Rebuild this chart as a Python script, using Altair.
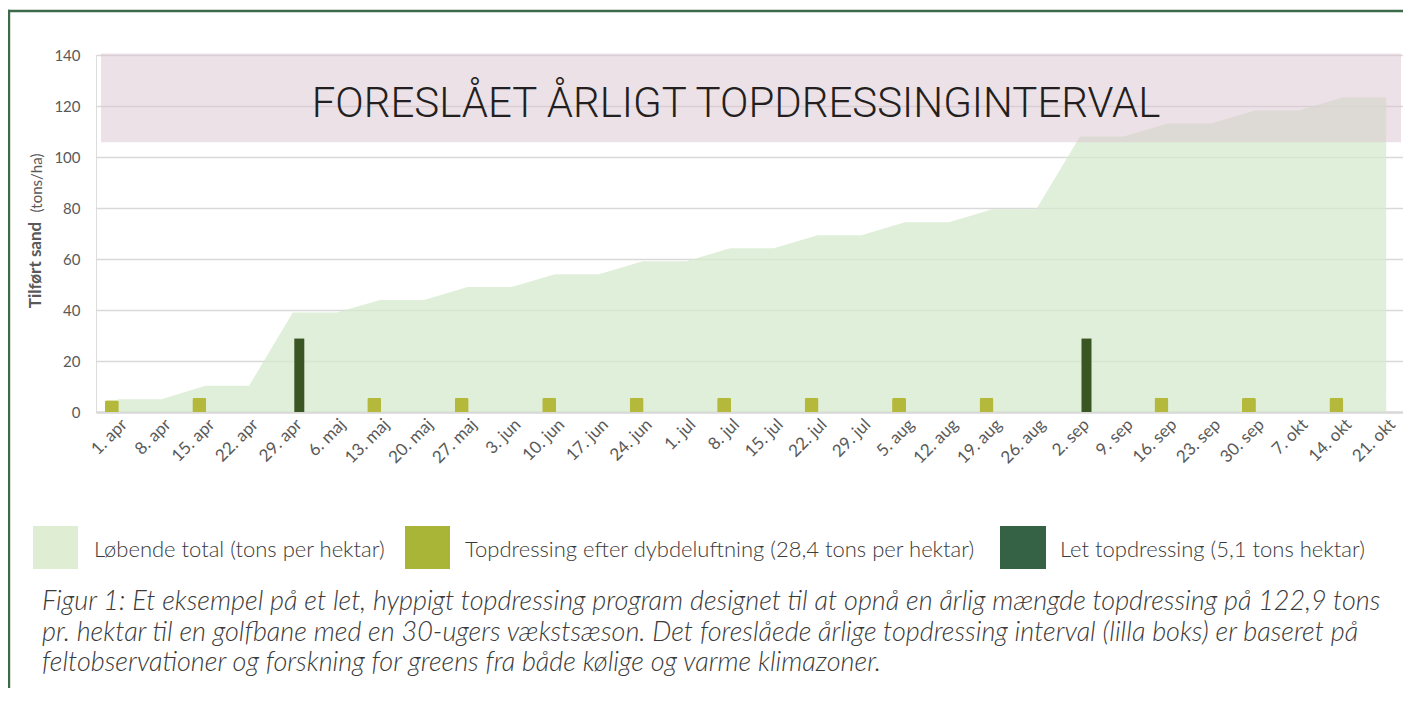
import altair as alt
import pandas as pd

weeks = ["1. apr", "8. apr", "15. apr", "22. apr", "29. apr", "6. maj", "13. maj", "20. maj",
         "27. maj", "3. jun", "10. jun", "17. jun", "24. jun", "1. jul", "8. jul", "15. jul",
         "22. jul", "29. jul", "5. aug", "12. aug", "19. aug", "26. aug", "2. sep", "9. sep",
         "16. sep", "23. sep", "30. sep", "7. okt", "14. okt", "21. okt"]

running_total = [5.0, 5.0, 10.3, 10.3, 39.0, 39.0, 43.9, 43.9, 49.0, 49.0, 54.0, 54.0,
                 59.1, 59.1, 64.2, 64.2, 69.3, 69.3, 74.4, 74.4, 79.5, 79.5, 108.0, 108.0,
                 113.1, 113.1, 118.2, 118.2, 123.3, 123.3]

light_bars = [4.6, None, 5.6, None, None, None, 5.6, None, 5.6, None, 5.6, None,
              5.6, None, 5.6, None, 5.6, None, 5.6, None, 5.6, None, None, None,
              5.6, None, 5.6, None, 5.6, None]

dark_bars = [None, None, None, None, 28.8, None, None, None, None, None, None, None,
             None, None, None, None, None, None, None, None, None, None, 28.8, None,
             None, None, None, None, None, None]

interval_low = [105.8]
interval_high = [140.6]

y_ticks = [0, 20, 40, 60, 80, 100, 120, 140]

title_text = "FORESLÅET ÅRLIGT TOPDRESSINGINTERVAL"
y_title_main = "Tilført sand"
y_title_unit = "(tons/ha)"
legend_labels = ["Løbende total (tons per hektar)",
                 "Topdressing efter dybdeluftning (28,4 tons per hektar)",
                 "Let topdressing (5,1 tons hektar)"]
caption_lines = [
    "Figur 1: Et eksempel på et let, hyppigt topdressing program designet til at opnå en årlig mængde topdressing på 122,9 tons",
    "pr. hektar til en golfbane med en 30-ugers vækstsæson. Det foreslåede årlige topdressing interval (lilla boks) er baseret på",
    "feltobservationer og forskning for greens fra både kølige og varme klimazoner.",
]

df = pd.DataFrame({"week": weeks, "total": running_total,
                   "light": light_bars, "dark": dark_bars})
box_df = pd.DataFrame({"lo": interval_low, "hi": interval_high})
one = pd.DataFrame({"k": [0]})

PLOT_W = 1307
PLOT_H = 357

x_scale = alt.Scale(domain=weeks, range=[0, 1312], paddingInner=0, paddingOuter=0)
y_scale = alt.Scale(domain=[0, 140], nice=False, zero=True)

x_axis = alt.Axis(title=None, labelAngle=-45, labelFont="Lato", labelFontSize=17,
                  labelColor="#595959", ticks=False, domainColor="#D9D9D9",
                  domainWidth=2.5, grid=False, labelPadding=4, labelOffset=1)
y_axis = alt.Axis(title=None, values=y_ticks, domain=False, ticks=False, grid=True,
                  gridColor="#D9D9D9", gridWidth=1.5, labelFont="Lato",
                  labelFontSize=15, labelColor="#595959", labelPadding=16)

x_enc = alt.X("week:N", sort=weeks, scale=x_scale, axis=x_axis)

area = alt.Chart(df).mark_area(color="#D6E9CC", opacity=0.75, line=False).encode(
    x=alt.X("week:N", sort=weeks, scale=x_scale, bandPosition=0.5, axis=x_axis),
    y=alt.Y("total:Q", scale=y_scale, axis=y_axis),
)

light = alt.Chart(df).transform_filter("datum.light != null").mark_bar(
    color="#B4B83B", width=14, xOffset=-6, cornerRadiusTopLeft=2, cornerRadiusTopRight=2
).encode(x=x_enc, y=alt.Y("light:Q", scale=y_scale))

dark = alt.Chart(df).transform_filter("datum.dark != null").mark_bar(
    color="#3A5622", width=10, xOffset=6.5
).encode(x=x_enc, y=alt.Y("dark:Q", scale=y_scale))

box = alt.Chart(box_df).mark_rect(color="#D9C3CF", opacity=0.5).encode(
    x=alt.value(5), x2=alt.value(1305),
    y=alt.Y("hi:Q", scale=y_scale), y2="lo:Q",
)

title_font = "Roboto Light, Roboto, Liberation Sans Narrow, sans-serif"
title = alt.Chart(one).mark_text(
    text=title_text, font=title_font, fontSize=42, fontWeight=300, color="#231F20",
    align="center", baseline="alphabetic"
).encode(x=alt.value(640), y=alt.value(62))

ytitle1 = alt.Chart(one).mark_text(
    text=y_title_main, font="Lato", fontSize=17, fontWeight="bold", color="#595959",
    angle=270, align="center", baseline="middle"
).encode(x=alt.value(-60), y=alt.value(210))
ytitle2 = alt.Chart(one).mark_text(
    text=y_title_unit, font="Lato", fontSize=15, color="#595959",
    angle=270, align="center", baseline="middle"
).encode(x=alt.value(-59), y=alt.value(128))

legend_colors = ["#DFEDD2", "#A8B537", "#356244"]
rect_x = [(-63, -18), (309, 354), (904, 950)]
text_x = [-2, 369, 964]
legend_layers = []
for i in range(3):
    legend_layers.append(alt.Chart(one).mark_rect(color=legend_colors[i]).encode(
        x=alt.value(rect_x[i][0]), x2=alt.value(rect_x[i][1]),
        y=alt.value(471), y2=alt.value(514)))
    legend_layers.append(alt.Chart(one).mark_text(
        text=legend_labels[i], font="Lato", fontSize=22, fontWeight=300, color="#3A3A3A",
        align="left", baseline="alphabetic").encode(x=alt.value(text_x[i]), y=alt.value(502)))

caption = alt.Chart(one).mark_text(
    text=caption_lines, font="Lato", fontSize=27, fontWeight=300, fontStyle="italic",
    color="#3A3A3A", align="left", baseline="alphabetic", lineHeight=30.5
).encode(x=alt.value(-54), y=alt.value(555))

frame_color = "#3D6B4A"
frame_top = alt.Chart(one).mark_rect(color=frame_color).encode(
    x=alt.value(-88), x2=alt.value(PLOT_W + 10), y=alt.value(-45.2), y2=alt.value(-42.8))
frame_left = alt.Chart(one).mark_rect(color=frame_color).encode(
    x=alt.value(-88), x2=alt.value(-85.8), y=alt.value(-45.2), y2=alt.value(PLOT_H + 320))

chart = alt.layer(
    area, light, dark, box, title, ytitle1, ytitle2, *legend_layers, caption,
    frame_top, frame_left
).properties(
    width=PLOT_W, height=PLOT_H,
    autosize=alt.AutoSizeParams(type="none"),
    padding={"left": 88, "top": 47, "right": 0, "bottom": 276},
).configure_view(stroke=None).configure(background="white")

chart.save("out.html", embed_options={"renderer": "svg", "actions": False})
